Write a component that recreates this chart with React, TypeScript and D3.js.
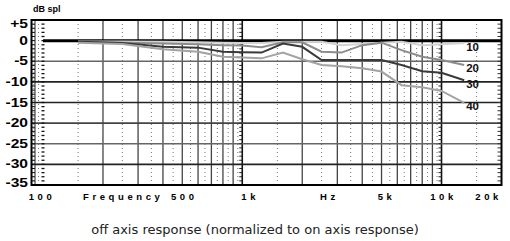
import React from "react"
import * as d3 from "d3"

// 1/3 octave band centres (Hz)
const freqs = [150, 250, 400, 600, 800, 1000, 1250, 1600, 2000, 2500, 3150, 4000, 5000, 6300, 8000, 10000, 13000]

// off axis response, dB relative to on axis
const deg10 = [-0.2, -0.2, -0.3, -0.4, -0.5, -0.6, -0.6, -0.3, -0.3, -0.3, -1.1, -0.8, -0.5, -0.3, -1.1, -0.9, -0.6]
const deg20 = [-0.3, -0.5, -0.7, -0.9, -1.1, -1.2, -1.6, -0.4, -0.4, -2.7, -2.9, -1.1, -0.5, -2.3, -3.9, -4.7, -5.9]
const deg30 = [-0.3, -0.6, -1.5, -1.7, -2.7, -2.8, -2.9, -0.7, -1.5, -4.7, -4.7, -4.7, -4.7, -5.9, -7.4, -7.8, -9.6]
const deg40 = [-0.5, -0.8, -2.1, -2.7, -3.9, -4.1, -4.3, -2.9, -4.5, -5.9, -6.2, -6.7, -7.5, -10.8, -11.3, -12.2, -15.1]

const seriesNames = ["10", "20", "30", "40"]
const seriesColors = ["#d2d2d2", "#8c8c8c", "#3a3a3a", "#a3a3a3"]

const yTicks = [5, 0, -5, -10, -15, -20, -25, -30, -35]
const yTickLabels = ["+5", "0", "-5", "-10", "-15", "-20", "-25", "-30", "-35"]

const xTickFreqs = [100, 500, 1000, 5000, 10000, 20000]
const xTickLabels = ["100", "500", "1k", "5k", "10k", "20k"]

const solidFreqs = [200, 300, 400, 500, 600, 700, 800, 900, 2000, 3000, 4000, 5000, 6000, 7000, 8000, 9000]
const dottedFreqs = [90, 95, 150, 250, 350, 450, 550, 650, 750, 850, 950, 1500, 2500, 3500, 4500, 5500, 6500, 7500, 8500, 9500, 15000]
const decadeFreqs = [1000, 10000]

const font = "Liberation Sans, Arial, sans-serif"

export default function App() {
  const W = 510, H = 241
  const left = 31.5, right = 501.5, top = 20, bottom = 185

  const x = d3.scaleLog().domain([100, 20000]).range([43, right])
  const y = d3.scaleLinear().domain([-35, 5]).range([bottom, top])

  const all = [deg10, deg20, deg30, deg40]
  const line = d3.line<number>()
    .x((d, i) => x(freqs[i]))
    .y(d => y(d))

  const minor = d3.range(-35, 6, 1)

  const hColor = (v: number) => (v === -5 || v === -25 ? "#666" : v === -20 ? "#444" : "#222")

  // small nudges so the spaced-out labels sit where the original ones do
  const xLabelX = (f: number, i: number) => {
    if (i === xTickFreqs.length - 1) return 502
    if (f === 1000) return x(f) + 8
    if (f === 5000) return x(f) + 5
    if (f === 100) return x(f) - 1
    return x(f) + 2
  }

  return (
    <svg width={W} height={H} style={{ position: "absolute", left: 0, top: 0, background: "#fff" }}>
      {/* dotted verticals */}
      {dottedFreqs.map(f => (
        <line key={"d" + f} x1={x(f)} x2={x(f)} y1={top} y2={bottom}
          stroke="#777" strokeWidth={1} strokeDasharray="1,3" />
      ))}
      {/* solid verticals */}
      {solidFreqs.map(f => (
        <line key={"s" + f} x1={x(f)} x2={x(f)} y1={top} y2={bottom} stroke="#444" strokeWidth={1.3} />
      ))}
      {decadeFreqs.map(f => (
        <line key={"k" + f} x1={x(f)} x2={x(f)} y1={top} y2={bottom} stroke="#111" strokeWidth={1.6} />
      ))}
      {/* horizontal grid */}
      {yTicks.filter(v => v !== 0 && v !== 5 && v !== -35).map(v => (
        <line key={"h" + v} x1={left} x2={right} y1={y(v)} y2={y(v)} stroke={hColor(v)} strokeWidth={1.6} />
      ))}
      {/* minor dB ticks: left frame, 100 Hz, decades, right frame */}
      {minor.map(v => (
        <g key={"m" + v}>
          <line x1={left} x2={left + 3.5} y1={y(v)} y2={y(v)} stroke="#111" strokeWidth={1} />
          <line x1={x(100) - 1.5} x2={x(100) + 1.5} y1={y(v)} y2={y(v)} stroke="#111" strokeWidth={1.3} />
          {decadeFreqs.map(f => (
            <line key={f} x1={x(f) - 3} x2={x(f)} y1={y(v)} y2={y(v)} stroke="#222" strokeWidth={1} />
          ))}
          <line x1={right - 4} x2={right} y1={y(v)} y2={y(v)} stroke="#333" strokeWidth={1} />
        </g>
      ))}
      <line x1={left + 3.5} x2={left + 3.5} y1={top} y2={bottom} stroke="#222" strokeWidth={1} />
      {/* frame */}
      <rect x={left} y={top} width={right - left} height={bottom - top} fill="none" stroke="#000" strokeWidth={2} />
      {/* 0 dB reference */}
      <line x1={x(100)} x2={right} y1={y(0)} y2={y(0)} stroke="#000" strokeWidth={3} />

      {/* curves */}
      {all.map((vals, i) => (
        <path key={"c" + i} d={line(vals) || ""} fill="none" stroke={seriesColors[i]} strokeWidth={2} />
      ))}
      {all.map((vals, i) => (
        <text key={"l" + i} x={x(freqs[freqs.length - 1]) + 2} y={y(vals[vals.length - 1]) + 7.5} fontFamily={font}
          fontWeight="bold" fontSize={11.5} fill="#111">{seriesNames[i]}</text>
      ))}

      {/* y axis labels */}
      {yTicks.map((v, i) => (
        <text key={"y" + v} transform={`translate(28,${Math.min(Math.max(y(v), 24), 183) + 4}) scale(1.3,1)`}
          textAnchor="end" fontFamily={font} fontWeight="bold" fontSize={12} fill="#000">
          {yTickLabels[i]}
        </text>
      ))}
      <text x={33} y={12} fontFamily={font} fontWeight="bold" fontSize={9} fill="#000">dB spl</text>

      {/* x axis labels */}
      {xTickFreqs.map((f, i) => (
        <text key={"x" + f} x={xLabelX(f, i)} y={200}
          textAnchor={i === xTickFreqs.length - 1 ? "end" : "middle"}
          fontFamily={font} fontWeight="bold" fontSize={9.5} letterSpacing={3.6} fill="#000">
          {xTickLabels[i]}
        </text>
      ))}
      <text x={83} y={200} fontFamily={font} fontWeight="bold" fontSize={9.5} letterSpacing={3.6} fill="#000">Frequency</text>
      <text x={320} y={200} fontFamily={font} fontWeight="bold" fontSize={9.5} letterSpacing={3.6} fill="#000">Hz</text>

      <text x={255} y={234} textAnchor="middle" fontFamily="DejaVu Sans, Verdana, sans-serif" fontSize={13} fill="#222">
        off axis response (normalized to on axis response)
      </text>
    </svg>
  )
}
